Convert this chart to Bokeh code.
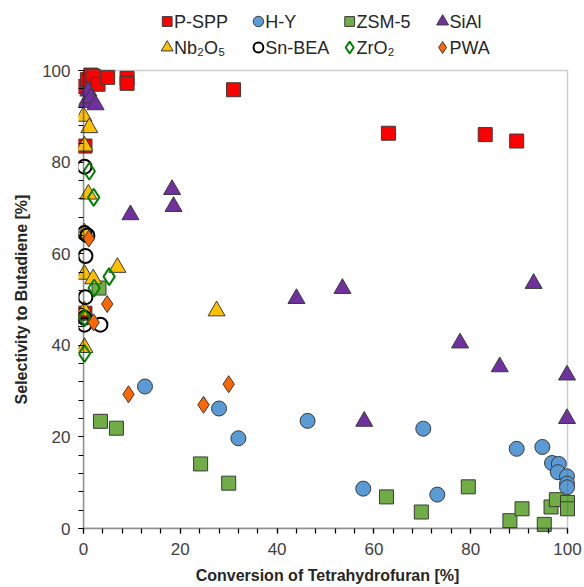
from bokeh.plotting import figure
from bokeh.models import Range1d, FixedTicker, BoxAnnotation
from bokeh.layouts import column
from bokeh.core.properties import value
from bokeh.embed import file_html
from bokeh.resources import INLINE

# ---- data (conversion %, selectivity %) ----
pspp_x = [0.3, 0.8, 1.5, 2.0, 3.0, 5.0, 9.0, 9.0, 31.0, 63.0, 83.0, 89.5, 0.3, 0.3]
pspp_y = [96.5, 98.0, 99.0, 98.8, 97.0, 98.5, 98.3, 97.2, 95.8, 86.3, 86.0, 84.6, 83.5, 47.0]

hy_x = [12.7, 28.0, 32.0, 46.3, 57.8, 70.2, 73.1, 89.5, 94.8, 96.8, 98.2, 98.0, 99.9, 99.9, 99.9]
hy_y = [31.0, 26.2, 19.7, 23.5, 8.7, 21.8, 7.4, 17.4, 17.8, 14.3, 14.1, 12.3, 11.4, 9.8, 9.0]

zsm_x = [3.2, 3.5, 6.8, 24.2, 30.0, 62.6, 69.8, 79.5, 88.1, 90.6, 95.2, 96.6, 97.7, 100.0, 100.0]
zsm_y = [52.5, 23.4, 21.9, 14.1, 9.9, 6.9, 3.6, 9.1, 1.7, 4.3, 0.9, 4.7, 6.3, 5.7, 4.3]

sial_x = [0.5, 1.0, 1.5, 2.5, 9.7, 18.3, 18.6, 44.0, 53.5, 58.0, 77.8, 86.0, 93.0, 99.9, 99.9]
sial_y = [93.0, 95.5, 94.0, 92.5, 68.5, 74.0, 70.3, 50.2, 52.4, 23.4, 40.5, 35.3, 53.5, 33.5, 24.0]

nb_x = [0.0, 1.2, 0.2, 1.0, 0.2, 0.2, 2.0, 7.0, 27.5, 0.2, 0.2]
nb_y = [90.0, 87.5, 83.5, 73.0, 64.5, 55.5, 54.5, 57.0, 47.5, 47.5, 39.5]

snbea_x = [0.2, 0.2, 0.8, 0.4, 0.4, 0.2, 0.2, 3.5]
snbea_y = [79.0, 64.5, 64.0, 59.5, 50.5, 46.0, 44.5, 44.5]

zro_x = [1.2, 2.1, 5.3, 2.2, 0.2, 0.2]
zro_y = [78.0, 72.3, 55.0, 52.5, 46.0, 38.2]

pwa_x = [1.1, 4.9, 2.1, 9.3, 24.8, 30.0]
pwa_y = [63.3, 49.0, 45.0, 29.3, 27.0, 31.5]

series_names = ["P-SPP", "H-Y", "ZSM-5", "SiAl", "Nb₂O₅", "Sn-BEA", "ZrO₂", "PWA"]
ticks = [0, 20, 40, 60, 80, 100]
minor = list(range(0, 101, 4))
x_title = "Conversion of Tetrahydrofuran [%]"
y_title = "Selectivity to Butadiene [%]"

FONT = "Liberation Sans"
edge = "#3a3a3a"

styles = [
    dict(marker="square", size=14, fill_color="#FF0000", line_color=edge, line_width=1),
    dict(marker="circle", size=15, fill_color="#5B9BD5", line_color=edge, line_width=1),
    dict(marker="square", size=14, fill_color="#70AD47", line_color=edge, line_width=1),
    dict(marker="triangle", size=17, fill_color="#7030A0", line_color=edge, line_width=1),
    dict(marker="triangle", size=17, fill_color="#FFC000", line_color=edge, line_width=1),
    dict(marker="circle", size=14, fill_alpha=0, line_color="black", line_width=2),
    dict(marker="diamond", size=17, fill_alpha=0, line_color="#008000", line_width=2),
    dict(marker="diamond", size=17, fill_color="#FF6600", line_color=edge, line_width=1),
]
data = [(pspp_x, pspp_y), (hy_x, hy_y), (zsm_x, zsm_y), (sial_x, sial_y),
        (nb_x, nb_y), (snbea_x, snbea_y), (zro_x, zro_y), (pwa_x, pwa_y)]

W = 584
LEG_H = 56
MAIN_H = 531

# ---- legend strip (pixel coordinates) ----
leg = figure(width=W, height=LEG_H, x_range=Range1d(0, W), y_range=Range1d(LEG_H, 0),
             output_backend="svg", toolbar_location=None,
             min_border=0, min_border_left=0, min_border_right=0, min_border_top=0, min_border_bottom=0)
leg.axis.visible = False
leg.grid.visible = False
leg.outline_line_color = None
col_x = [104, 211, 318, 427]
row_y = [21, 47]
for i, (name, st) in enumerate(zip(series_names, styles)):
    cx = col_x[i % 4]
    cy = row_y[i // 4]
    st2 = dict(st)
    st2["size"] = st["size"] * 0.7
    leg.scatter([cx], [cy], **st2)
    leg.text([cx + 8], [cy], text=[name], text_font=value(FONT), text_font_size="18px",
             text_color="#262626", text_baseline="middle", text_align="left")

# ---- main plot ----
# the frame is padded a few px beyond the 0..100 box so edge markers are not cut;
# the axes sit on the frame edge and their ticks point inward up to the 0 line
XS, YS = 4.84, 4.58          # px per data unit
PAD_L, PAD_R, PAD_T, PAD_B = 5, 9, 5, 5
p = figure(width=W, height=MAIN_H,
           x_range=Range1d(-PAD_L / XS, 100 + PAD_R / XS),
           y_range=Range1d(-PAD_B / YS, 100 + PAD_T / YS),
           output_backend="svg", toolbar_location=None,
           min_border_left=83 - PAD_L, min_border_right=W - 567 - PAD_R,
           min_border_bottom=MAIN_H - (528 - LEG_H) - PAD_B, min_border_top=70 - LEG_H - PAD_T)
p.grid.visible = False
p.outline_line_color = None

for ax, pad in ((p.xaxis[0], PAD_B), (p.yaxis[0], PAD_L)):
    ax.ticker = FixedTicker(ticks=ticks, minor_ticks=minor)
    ax.axis_line_color = None
    ax.major_tick_line_color = "black"
    ax.minor_tick_line_color = "black"
    ax.major_tick_line_width = 1.2
    ax.minor_tick_line_width = 1.2
    ax.major_tick_in = pad
    ax.major_tick_out = 0
    ax.minor_tick_in = pad
    ax.minor_tick_out = 0
    ax.major_label_text_font = FONT
    ax.major_label_text_font_size = "17px"
    ax.major_label_text_color = "#404040"
    ax.axis_label_text_font = FONT
    ax.axis_label_text_font_style = "bold"
    ax.axis_label_text_font_size = "16px"
    ax.axis_label_text_color = "#262626"

p.xaxis.axis_label = x_title
p.yaxis.axis_label = y_title
p.xaxis.major_label_standoff = 9
p.yaxis.major_label_standoff = 8
p.xaxis.axis_label_standoff = 9
p.yaxis.axis_label_standoff = 9

for (xs, ys), st in zip(data, styles):
    p.scatter(xs, ys, **st)

# plot box: grey top/right border, black axis lines at 0
p.add_layout(BoxAnnotation(left=0, right=100, bottom=0, top=100, fill_alpha=0,
                           line_color="#595959", line_width=1.5))
p.add_layout(BoxAnnotation(left=0, right=0.05, bottom=0, top=100, fill_alpha=0,
                           line_color="black", line_width=1.3))
p.add_layout(BoxAnnotation(left=0, right=100, bottom=0, top=0.05, fill_alpha=0,
                           line_color="black", line_width=1.3))

layout = column(leg, p, spacing=0)
open("out.html", "w").write(file_html(layout, INLINE))
